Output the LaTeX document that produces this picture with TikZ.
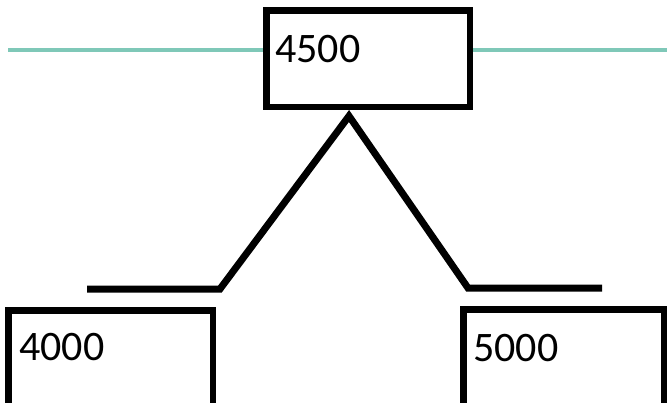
\documentclass[tikz,border=0pt]{standalone}
\usepackage{fontspec}
\setmainfont{Carlito}
\definecolor{teal1}{RGB}{127,200,184}
\tikzset{
  box/.style={draw=black, line width=6.5pt, rectangle, inner sep=0pt},
  lbl/.style={font=\fontsize{42}{46}\selectfont, inner sep=0pt, anchor=west},
  peak/.style={draw=black, line width=7pt, line join=miter},
  hline/.style={draw=teal1, line width=4pt}
}
\begin{document}
\begin{tikzpicture}[x=1pt,y=-1pt]
\useasboundingbox (0,0) rectangle (667,402);
\clip (0,0) rectangle (667,402);
% teal line
\coordinate (tl) at (8,49.5);
\coordinate (tr) at (670,49.5);
\node[box, minimum width=203.5pt, minimum height=96.5pt] (b1) at (368,58.5) {};
\draw[hline] (tl) -- (b1.west |- tl);
\draw[hline] (b1.east |- tr) -- (tr);
\node[lbl] (t1) at (275,49.5) {4500};
% lower boxes
\node[box, minimum width=204.5pt, minimum height=140pt] (b2) at (110.5,380.25) {};
\node[box, minimum width=200.5pt, minimum height=140pt] (b3) at (563.5,379.25) {};
\node[lbl] (t2) at (19,347.5) {4000};
\node[lbl] (t3) at (473,348) {5000};
% peak line
\coordinate (p1) at (87,289);
\coordinate (p2) at (220,289);
\coordinate (p3) at (349,116);
\coordinate (p4) at (468,288);
\coordinate (p5) at (602,288);
\draw[peak] (p1) -- (p2) -- (p3) -- (p4) -- (p5);
\end{tikzpicture}
\end{document}
